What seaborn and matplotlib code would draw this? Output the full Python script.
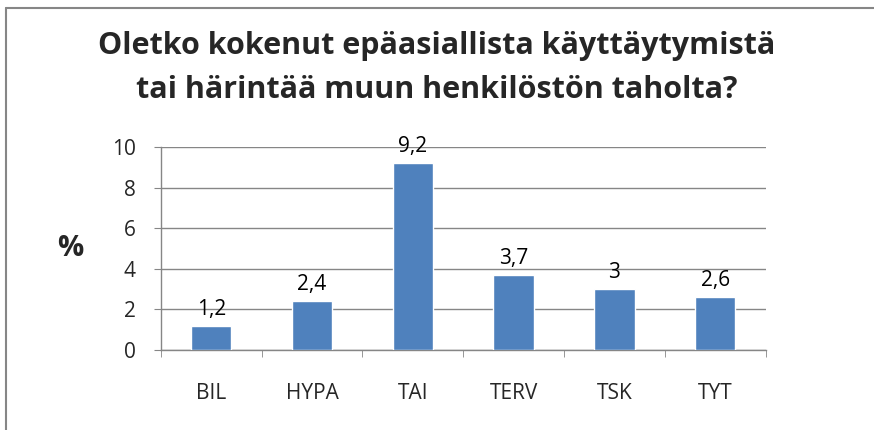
import matplotlib
matplotlib.use("Agg")
import matplotlib.pyplot as plt
import seaborn as sns
import pandas as pd
from matplotlib.lines import Line2D

categories = ["BIL", "HYPA", "TAI", "TERV", "TSK", "TYT"]
values = [1.2, 2.4, 9.2, 3.7, 3.0, 2.6]
labels = ["1,2", "2,4", "9,2", "3,7", "3", "2,6"]
yticks = [0, 2, 4, 6, 8, 10]
title = "Oletko kokenut epäasiallista käyttäytymistä\ntai härintää muun henkilöstön taholta?"

df = pd.DataFrame({"unit": categories, "pct": values})

sns.set_style("white")
plt.rcParams["font.family"] = ["Open Sans", "DejaVu Sans"]

fig = plt.figure(figsize=(8.74, 4.3), dpi=100)
ax = fig.add_axes([0.184, 0.186, 0.692, 0.472])

sns.barplot(data=df, x="unit", y="pct", color="#4F81BD", width=0.4,
            saturation=1, ax=ax, zorder=3)

for i, (v, t) in enumerate(zip(values, labels)):
    ax.text(i, v + 0.3, t, ha="center", va="bottom", fontsize=15, color="black")

ax.set_ylim(0, 10)
ax.set_xlim(-0.5, len(categories) - 0.5)
ax.set_yticks(yticks)
ax.set_yticklabels([str(t) for t in yticks], fontsize=15)
ax.set_xticks(range(len(categories)))
ax.set_xticklabels(categories, fontsize=15)
ax.tick_params(axis="x", length=0, pad=24)
ax.tick_params(axis="y", length=5, color="#868686", direction="out", left=True, pad=13)
# category boundary ticks
ax.set_xticks([i - 0.5 for i in range(len(categories) + 1)], minor=True)
ax.tick_params(axis="x", which="minor", length=5, color="#868686", direction="out", bottom=True)

ax.grid(axis="y", color="#868686", linewidth=1, zorder=0)
for s in ["top", "right"]:
    ax.spines[s].set_visible(False)
for s in ["left", "bottom"]:
    ax.spines[s].set_color("#868686")
    ax.spines[s].set_linewidth(1)
ax.set_xlabel("")
ax.set_ylabel("%", fontsize=21, fontweight="bold", rotation=0, labelpad=30, va="center")

fig.text(0.5, 0.842, title, ha="center", va="center", fontsize=22, fontweight="bold",
         linespacing=1.6)

# chart-area border (only top and left edges are visible in the crop)
fig.lines.append(Line2D([0.007, 1.0], [0.981, 0.981], transform=fig.transFigure,
                        color="#868686", linewidth=1.5))
fig.lines.append(Line2D([0.007, 0.007], [0.0, 0.981], transform=fig.transFigure,
                        color="#868686", linewidth=1.5))

fig.savefig("out.png", dpi=100)
